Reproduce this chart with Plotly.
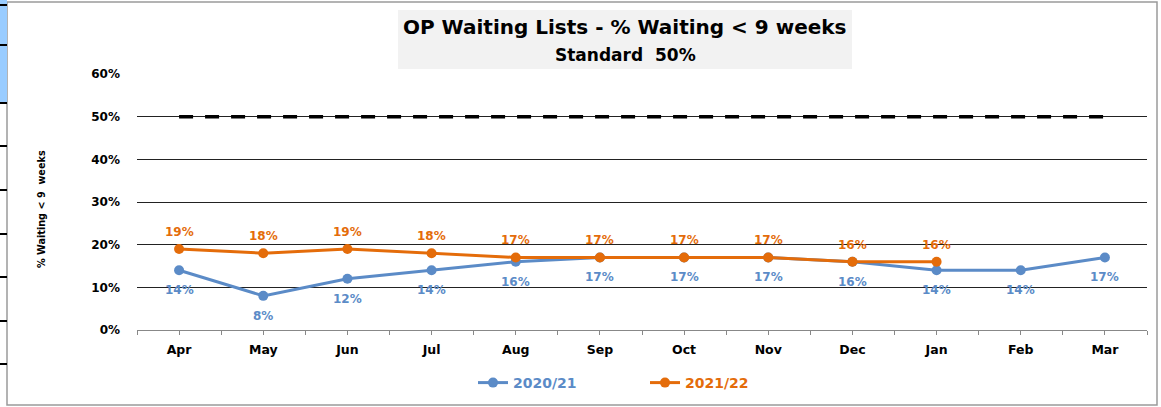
import plotly.graph_objects as go

months = ["Apr", "May", "Jun", "Jul", "Aug", "Sep", "Oct", "Nov", "Dec", "Jan", "Feb", "Mar"]
s2020 = [14, 8, 12, 14, 16, 17, 17, 17, 16, 14, 14, 17]
s2021 = [19, 18, 19, 18, 17, 17, 17, 17, 16, 16]
standard = [50] * 12
y_ticks = [0, 10, 20, 30, 40, 50, 60]

BLUE = "#5b8bc7"
ORANGE = "#e46c0a"
FONT = "DejaVu Sans"

W, H = 1161, 407
L, R, T, B = 137, 14, 74, 77
PW = W - L - R
PH = H - T - B

def px(x):
    return (x - L) / PW

def py(y):
    return (H - B - y) / PH

xs = list(range(len(months)))

fig = go.Figure()
fig.add_trace(go.Scatter(
    x=xs, y=[v / 100 for v in standard], mode="lines",
    line=dict(color="black", width=3.5, dash="14px,12px"),
    showlegend=False, hoverinfo="skip"))
fig.add_trace(go.Scatter(
    x=xs, y=[v / 100 for v in s2020], mode="lines+markers",
    name=f"<span style='color:{BLUE}'>2020/21</span>",
    line=dict(color=BLUE, width=3), marker=dict(size=10, color=BLUE)))
fig.add_trace(go.Scatter(
    x=xs[:len(s2021)], y=[v / 100 for v in s2021], mode="lines+markers",
    name=f"<span style='color:{ORANGE}'>2021/22</span>",
    line=dict(color=ORANGE, width=3), marker=dict(size=10, color=ORANGE)))

shapes = [
    dict(type="rect", xref="paper", yref="paper", x0=px(7), x1=px(1157), y0=py(405), y1=py(2),
         line=dict(color="#9a9a9a", width=1.5), fillcolor="rgba(0,0,0,0)", layer="below"),
    dict(type="rect", xref="paper", yref="paper", x0=px(398), x1=px(852), y0=py(69), y1=py(10),
         line=dict(width=0), fillcolor="#f2f2f2", layer="below"),
    dict(type="rect", xref="paper", yref="paper", x0=px(0), x1=px(7), y0=py(103), y1=py(0),
         line=dict(width=0), fillcolor="#99ccff", layer="below"),
]
for yy in [5, 45, 103, 146, 190, 234, 277, 321, 364]:
    shapes.append(dict(type="line", xref="paper", yref="paper", x0=px(0), x1=px(7),
                       y0=py(yy), y1=py(yy), line=dict(color="black", width=2)))

annotations = [
    dict(text="OP Waiting Lists - % Waiting < 9 weeks", xref="paper", yref="paper",
         x=px(625), y=py(27), xanchor="center", yanchor="middle", showarrow=False,
         font=dict(family=FONT, size=20, color="black", weight="bold")),
    dict(text="Standard  50%", xref="paper", yref="paper",
         x=px(625), y=py(55), xanchor="center", yanchor="middle", showarrow=False,
         font=dict(family=FONT, size=17, color="black", weight="bold")),
    dict(text="% Waiting < 9  weeks", xref="paper", yref="paper",
         x=px(41), y=py(209), xanchor="center", yanchor="middle", showarrow=False, textangle=-90,
         font=dict(family=FONT, size=9.7, color="black", weight="bold")),
]
for i, v in enumerate(s2020):
    annotations.append(dict(x=xs[i], y=v / 100, xref="x", yref="y", text=f"{v}%",
                            showarrow=False, yshift=-20, xanchor="center", yanchor="middle",
                            font=dict(family=FONT, size=12, color=BLUE, weight="bold")))
for i, v in enumerate(s2021):
    annotations.append(dict(x=xs[i], y=v / 100, xref="x", yref="y", text=f"{v}%",
                            showarrow=False, yshift=17, xanchor="center", yanchor="middle",
                            font=dict(family=FONT, size=12, color=ORANGE, weight="bold")))

fig.update_layout(
    width=W, height=H,
    margin=dict(l=L, r=R, t=T, b=B, autoexpand=False),
    paper_bgcolor="white", plot_bgcolor="white",
    shapes=shapes, annotations=annotations,
    showlegend=True,
    legend=dict(orientation="h", xref="container", yref="container",
                x=473 / W, xanchor="left", y=1 - 383 / H, yanchor="middle",
                font=dict(family=FONT, size=14, weight="bold"), entrywidth=127,
                itemwidth=30, bgcolor="rgba(0,0,0,0)"),
    xaxis=dict(range=[-0.5, len(months) - 0.5], tickmode="array", tickvals=xs, ticktext=months,
               ticks="outside", ticklen=4, tickcolor="#888", showgrid=False, zeroline=False,
               showline=True, linecolor="#888", linewidth=1, automargin=False,
               ticklabelstandoff=4,
               tickfont=dict(family=FONT, size=12.5, color="black", weight="bold"),
               minor=dict(tickmode="array", tickvals=[i - 0.5 for i in range(len(months) + 1)],
                          ticks="outside", ticklen=4, tickcolor="#888", showgrid=False)),
    yaxis=dict(range=[0, 0.6], tickmode="array", tickvals=[v / 100 for v in y_ticks],
               ticktext=[f"{v}%" for v in y_ticks], showgrid=True, gridcolor="#222", gridwidth=1.3,
               zeroline=False, showline=False, ticks="", ticklabelstandoff=16, automargin=False,
               tickfont=dict(family=FONT, size=12, color="black", weight="bold")),
)

fig.write_html("out.html", config={"displayModeBar": False},
               post_script="document.body.style.margin='0';document.body.style.overflow='hidden';")
